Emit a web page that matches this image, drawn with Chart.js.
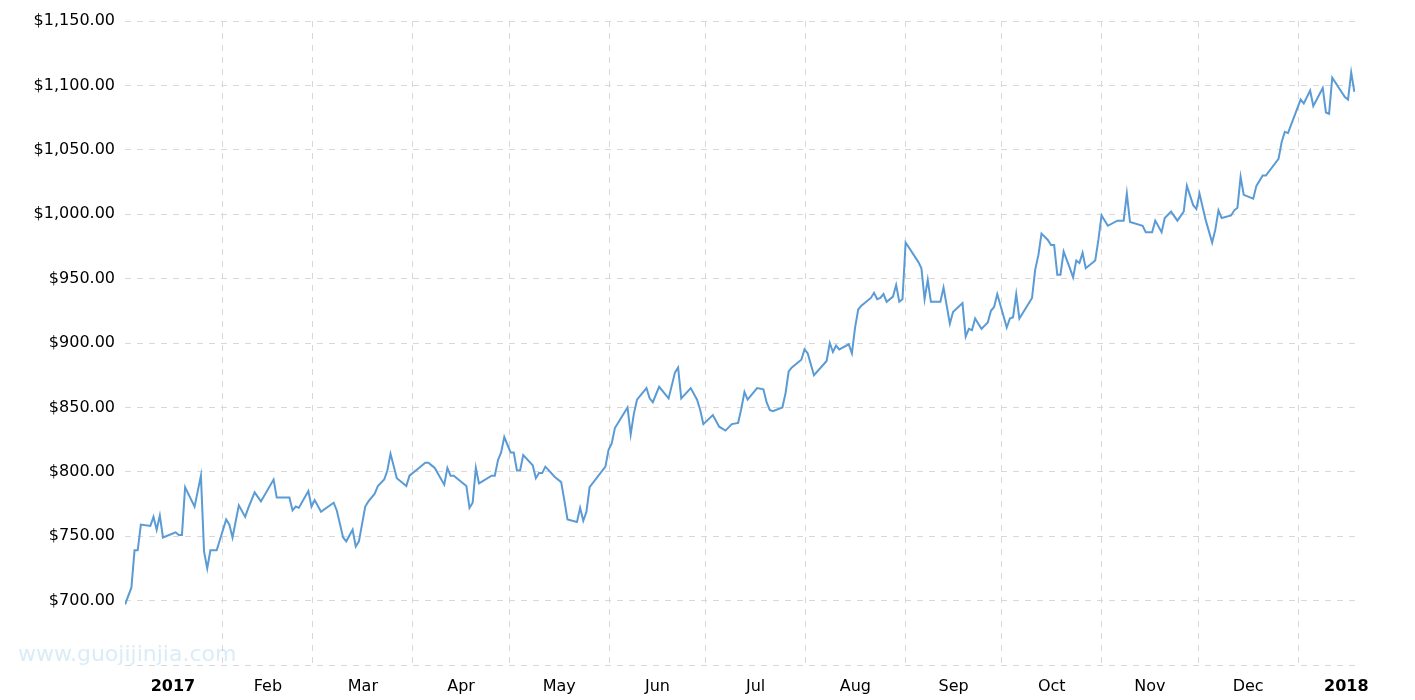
<!DOCTYPE html>
<html><head><meta charset="utf-8">
<script src="https://cdn.jsdelivr.net/npm/chart.js@4"></script>
<style>html,body{margin:0;padding:0;background:#fff}#w{width:1415px;height:700px}</style>
</head><body><div id="w"><canvas id="c"></canvas></div>
<script>
// readings: trading day index and price
const rawDays=[0,2,3,4,5,8,9,10,11,12,16,17,18,19,22,24,25,26,27,29,32,33,34,36,38,39,41,43,47,48,52,53,54,55,58,59,60,62,66,67,69,70,72,73,74,76,77,79,80,82,83,84,86,89,90,93,95,96,97,98,101,102,103,104,108,109,110,111,112,116,117,118,119,120,122,123,124,125,126,129,130,131,132,133,136,138,139,140,143,144,145,146,147,152,153,154,155,157,159,160,161,162,165,166,167,169,172,174,175,176,179,181,182,183,186,188,190,192,194,195,196,197,200,202,203,204,205,208,209,210,211,214,215,216,218,222,223,224,225,226,229,230,231,232,233,236,237,238,239,240,241,243,244,245,246,247,251,252,253,254,255,258,259,261,262,265,266,267,268,269,271,273,274,275,276,279,280,281,282,283,285,287,288,289,290,292,293,294,295,296,297,299,300,301,302,303,304,307,308,309,311,314,316,317,318,322,323,325,326,328,329,331,333,335,336,338,339,340,342,344,345,346,347,350,351,352,353,354,357,358,360,361,365,366,367,368,372,373,375,376,379,380,381,382,386,387,388,389];
const prices=[697,710,739,739,759,758,765,755,766,749,753,751,751,788,773,797,738,725,739,739,763,759,749,774,765,772,784,777,794,780,780,770,773,772,785,773,778,769,776,770,749,746,755,742,746,773,777,783,789,794,801,814,795,789,797,803,807,807,805,803,790,803,797,797,789,772,776,803,791,797,797,809,815,827,815,815,801,801,813,805,795,799,799,804,796,792,778,763,761,772,762,769,788,804,817,822,834,842,850,829,845,856,865,857,854,866,857,877,881,857,865,856,848,837,844,835,832,837,838,849,862,856,865,864,854,848,847,850,861,878,881,887,895,892,875,886,900,893,898,895,899,892,912,926,929,935,939,934,935,938,932,936,945,932,934,978,963,958,934,949,932,932,943,915,924,931,905,911,910,919,911,916,925,928,938,912,919,920,938,919,927,935,957,968,985,980,976,976,953,953,971,958,951,964,962,970,958,964,980,999,991,995,995,1016,994,991,986,986,995,986,997,1002,995,1002,1022,1007,1004,1016,995,978,988,1003,997,999,1003,1005,1029,1015,1012,1022,1030,1030,1043,1056,1064,1063,1089,1086,1096,1084,1098,1079,1078,1106,1091,1089,1110,1095];
const monthStarts=[31,59,90,120,151,181,212,243,273,304,334,365];
const monthMids=[15.5,45,74.5,105,135.5,166,196.5,227.5,258,288.5,319,349.5,380];
const monthLabels=['2017','Feb','Mar','Apr','May','Jun','Jul','Aug','Sep','Oct','Nov','Dec','2018'];
const yTicks=[650,700,750,800,850,900,950,1000,1050,1100,1150];
// calibrate reading index to calendar days of 2017
const days=rawDays.map(d=>d*0.9817+0.62);
const pts=days.map((d,i)=>({x:d,y:prices[i]}));
const font='"DejaVu Sans", Verdana, sans-serif';
const wm={id:'wm',afterDraw(c){const x=c.ctx;x.save();x.font='22px '+font;x.fillStyle='rgba(150,200,235,0.35)';x.textBaseline='middle';x.fillText('www.guojijinjia.com',18,655);x.restore();}};
new Chart(document.getElementById('c'),{type:'line',
data:{datasets:[{data:pts,borderColor:'#5b9bd5',borderWidth:2,pointRadius:0,tension:0,fill:false}]},
options:{responsive:true,maintainAspectRatio:false,animation:false,
layout:{padding:{top:21,right:60,left:0,bottom:0}},
plugins:{legend:{display:false},tooltip:{enabled:false}},
scales:{
x:{type:'linear',min:0.6,max:382.7,
afterBuildTicks(a){a.ticks=monthStarts.map(v=>({value:v,major:true})).concat(monthMids.map(v=>({value:v})));},
afterFit(a){a.height=35;},
border:{display:false,dash:[6,6]},
grid:{color:ctx=>ctx.tick&&ctx.tick.major?'#d8d8d8':'rgba(0,0,0,0)',drawTicks:false,lineWidth:1},
ticks:{autoSkip:false,maxRotation:0,padding:12,color:'#000',
callback:(v)=>{const i=monthMids.indexOf(v);return i>=0?monthLabels[i]:'';},
font:ctx=>{const i=monthMids.indexOf(ctx.tick&&ctx.tick.value);return {family:font,size:16,weight:(i===0||i===12)?'bold':'normal'};}}},
y:{min:650,max:1150,
afterBuildTicks(a){a.ticks=yTicks.map(v=>({value:v}));},
afterFit(a){a.width=125;},
border:{display:false,dash:[6,6]},
grid:{color:'#d8d8d8',drawTicks:false},
ticks:{padding:10,color:'#000',font:{family:font,size:16},
callback:v=>v===650?'':'$'+v.toLocaleString('en-US',{minimumFractionDigits:2,maximumFractionDigits:2})}}
}},plugins:[wm]});
</script></body></html>
